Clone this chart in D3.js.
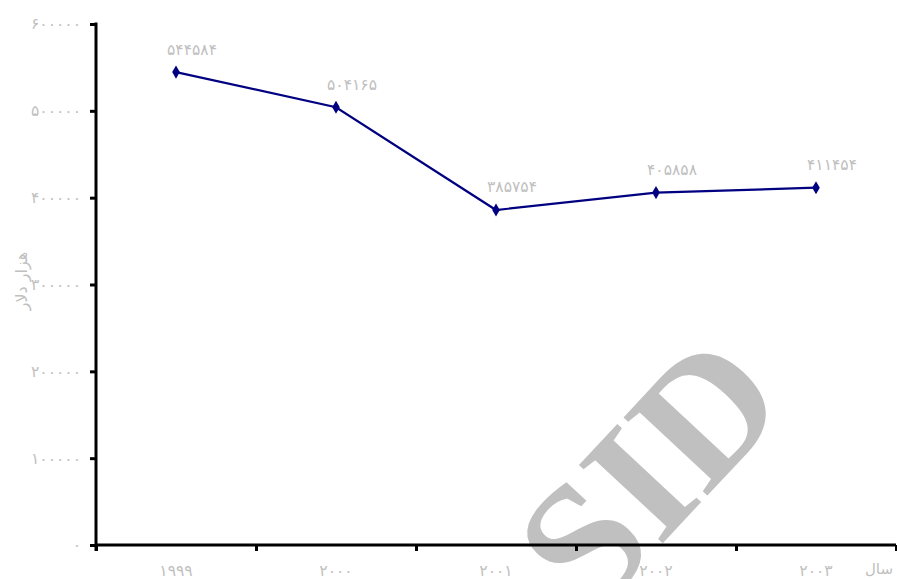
<!DOCTYPE html>
<html>
<head>
<meta charset="utf-8">
<script src="https://cdn.jsdelivr.net/npm/d3@7"></script>
<style>
  html, body { margin: 0; padding: 0; background: #fff; }
  svg { display: block; }
  .lbl { font-family: "DejaVu Sans", "Noto Sans", sans-serif; }
  .wm { font-family: "Liberation Serif", "DejaVu Serif", serif; font-weight: bold; }
</style>
</head>
<body>
<svg id="chart" width="897" height="579"></svg>
<script>
// ---- data ----
const years = ["1999", "2000", "2001", "2002", "2003"];
const yearLabels = ["۱۹۹۹", "۲۰۰۰", "۲۰۰۱", "۲۰۰۲", "۲۰۰۳"];
const values = [544584, 504165, 385754, 405858, 411454];
const valueLabels = ["۵۴۴۵۸۴", "۵۰۴۱۶۵", "۳۸۵۷۵۴", "۴۰۵۸۵۸", "۴۱۱۴۵۴"];
const yTicks = [0, 100000, 200000, 300000, 400000, 500000, 600000];
const yTickLabels = ["۰", "۱۰۰۰۰۰", "۲۰۰۰۰۰", "۳۰۰۰۰۰", "۴۰۰۰۰۰", "۵۰۰۰۰۰", "۶۰۰۰۰۰"];
const yTitle = "هزار دلار";
const xTitle = "سال";
const watermark = "SID";

// ---- layout ----
const svg = d3.select("#chart");
const mLeft = 96, mRight = 896, mTop = 24, mBottom = 545;
const labelColor = "#c0c0c0";
const digitSize = 15.5, digitSpacing = 1.4;

const x = d3.scaleBand().domain(years).range([mLeft, mRight]).paddingInner(0).paddingOuter(0);
const y = d3.scaleLinear().domain([0, 600000]).range([mBottom, mTop]);
const cx = d => x(d) + x.bandwidth() / 2;

// x labels
svg.append("g").selectAll("text").data(years).join("text")
  .attr("class", "lbl")
  .attr("x", d => cx(d))
  .attr("y", 571)
  .attr("dy", "0.35em")
  .attr("text-anchor", "middle")
  .attr("font-size", digitSize)
  .attr("letter-spacing", digitSpacing)
  .attr("fill", labelColor)
  .text((d, i) => yearLabels[i]);

// x title
svg.append("text")
  .attr("class", "lbl")
  .attr("x", 893).attr("y", 569).attr("dy", "0.35em")
  .attr("text-anchor", "end")
  .attr("font-size", 15)
  .attr("fill", labelColor)
  .text(xTitle);

// y labels
svg.append("g").selectAll("text").data(yTicks).join("text")
  .attr("class", "lbl")
  .attr("x", 81)
  .attr("y", d => y(d))
  .attr("dy", "0.35em")
  .attr("text-anchor", "end")
  .attr("font-size", digitSize)
  .attr("letter-spacing", digitSpacing)
  .attr("fill", labelColor)
  .text((d, i) => yTickLabels[i]);

// y title
svg.append("text")
  .attr("class", "lbl")
  .attr("transform", "translate(21,281) rotate(-90)")
  .attr("dy", "0.35em")
  .attr("text-anchor", "middle")
  .attr("font-size", 16)
  .attr("fill", labelColor)
  .text(yTitle);

// watermark
svg.append("text")
  .attr("class", "wm")
  .attr("transform", "translate(692,512) rotate(-47)")
  .attr("text-anchor", "middle")
  .attr("font-size", 175)
  .attr("fill", "#c0c0c0")
  .text(watermark);

// axes
const yAxis = d3.axisLeft(y).tickValues(yTicks).tickSize(6).tickFormat("");
const gy = svg.append("g").attr("transform", `translate(${mLeft},0)`).call(yAxis);
gy.select(".domain").attr("d", `M0,${mTop - 1.5}V${mBottom + 6}`).attr("stroke", "#000").attr("stroke-width", 3);
gy.selectAll(".tick line").attr("stroke", "#000").attr("stroke-width", 3);

const xTickScale = d3.scaleLinear().domain([0, years.length]).range([mLeft, mRight]);
const xAxis = d3.axisBottom(xTickScale).tickValues(d3.range(0, years.length + 1)).tickSize(6).tickFormat("");
const gx = svg.append("g").attr("transform", `translate(0,${mBottom})`).call(xAxis);
gx.select(".domain").attr("d", `M${mLeft},0H${mRight}`).attr("stroke", "#000").attr("stroke-width", 3);
gx.selectAll(".tick line").attr("stroke", "#000").attr("stroke-width", 3);

// line
const line = d3.line().x((d, i) => cx(years[i])).y(d => y(d));
svg.append("path").datum(values)
  .attr("d", line)
  .attr("fill", "none")
  .attr("stroke", "#000080")
  .attr("stroke-width", 2.2);

svg.append("g").selectAll("path").data(values).join("path")
  .attr("transform", (d, i) => `translate(${cx(years[i])},${y(d)})`)
  .attr("d", d3.symbol(d3.symbolDiamond, 50))
  .attr("fill", "#000080");

// value labels
svg.append("g").selectAll("text").data(values).join("text")
  .attr("class", "lbl")
  .attr("x", (d, i) => cx(years[i]) + 16)
  .attr("y", d => y(d) - 23)
  .attr("dy", "0.35em")
  .attr("text-anchor", "middle")
  .attr("font-size", digitSize)
  .attr("letter-spacing", digitSpacing)
  .attr("fill", labelColor)
  .text((d, i) => valueLabels[i]);
</script>
</body>
</html>
